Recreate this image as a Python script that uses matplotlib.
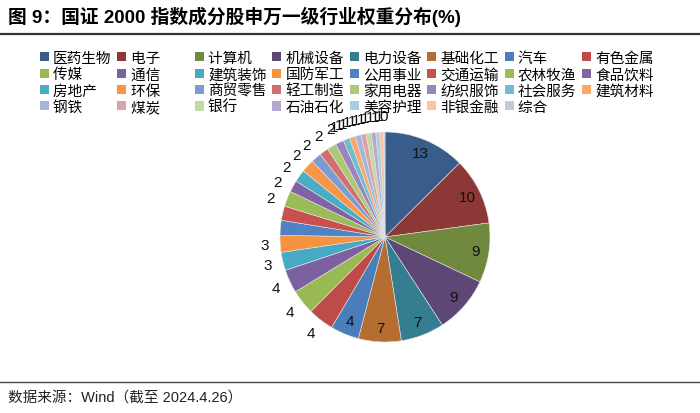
import matplotlib
matplotlib.use("Agg")
import matplotlib.pyplot as plt
from matplotlib.patches import Patch
import numpy as np

plt.rcParams['font.family'] = ['Liberation Sans', 'Noto Sans CJK SC', 'DejaVu Sans']

# 申万一级行业及权重(%)
industries = ['医药生物', '电子', '计算机', '机械设备', '电力设备', '基础化工', '汽车', '有色金属',
              '传媒', '通信', '建筑装饰', '国防军工', '公用事业', '交通运输', '农林牧渔', '食品饮料',
              '房地产', '环保', '商贸零售', '轻工制造', '家用电器', '纺织服饰', '社会服务', '建筑材料',
              '钢铁', '煤炭', '银行', '石油石化', '美容护理', '非银金融', '综合']
weights = [12.6, 10.3, 9.2, 8.8, 6.7, 6.6, 4.4, 4.0,
           3.8, 3.6, 2.8, 2.6, 2.3, 2.2, 2.4, 1.8,
           1.9, 2.0, 1.6, 1.4, 1.4, 1.3, 1.0, 0.9,
           0.9, 0.8, 0.8, 0.7, 0.6, 0.6, 0.2]
colors = ['#385D8A', '#8C3836', '#71893F', '#5C4776', '#357D91', '#B66D31', '#4A7EBB', '#BE4B48',
          '#98B954', '#7D60A0', '#46AAC5', '#F69240', '#4F81C5', '#C9504E', '#9BBB59', '#8064A2',
          '#4BACC6', '#F79646', '#7B9BD1', '#D0706E', '#ADC878', '#9A85B9', '#6EBDD3', '#F9A86A',
          '#A3B6DA', '#DDA3A2', '#C4D7A6', '#B5A8CC', '#A5CFDE', '#F9C3A1', '#C0C9E0']

fig = plt.figure(figsize=(7, 4.14), dpi=100)

# 标题与分隔线
fig.text(8 / 700, 1 - 17 / 414, '图 9：国证 2000 指数成分股申万一级行业权重分布(%)',
         fontsize=13.5, fontweight='bold', va='center', ha='left')
fig.add_artist(plt.Line2D([0, 1], [1 - 35 / 414] * 2, color='#333333', lw=1.6))
fig.add_artist(plt.Line2D([0, 1], [1 - 383 / 414] * 2, color='#444444', lw=1.0))
fig.text(8 / 700, 1 - 398 / 414, '数据来源：Wind（截至 2024.4.26）',
         fontsize=10.5, va='center', ha='left', color='#222222')

# 饼图
ax = fig.add_axes([280 / 700, 1 - 343 / 414, 210 / 700, 210 / 414])
wedges, _ = ax.pie(weights, colors=colors, startangle=90, counterclock=False,
                   wedgeprops=dict(edgecolor='#e6e6e6', linewidth=0.4))
ax.set_xlim(-1, 1)
ax.set_ylim(-1, 1)
ax.set_aspect('equal')
ax.axis('off')

# 数据标签: 大块放在内部, 小块放在外部, 顶部拥挤的向上推
total = sum(weights)
cum = np.cumsum([0] + weights[:-1])
mids = [360 * (c + w / 2) / total for c, w in zip(cum, weights)]
angles = list(mids)
nxt = 359.5
for i in range(len(weights) - 1, -1, -1):
    if weights[i] < 2.5:
        angles[i] = min(mids[i] + 14, nxt)
        nxt = angles[i] - 2.2
for i, w in enumerate(weights):
    r = 0.87 if w > 4.2 else 1.15
    th = np.radians(angles[i])
    ax.text(r * np.sin(th), r * np.cos(th), f'{w:.0f}', ha='center', va='center',
            fontsize=11, color='#111111', clip_on=False)

# 图例 (按行排列)
handles = [Patch(facecolor=c, edgecolor='none') for c in colors]
labels = [s + '\u3000' * (4 - len(s)) for s in industries]
ncol = 8
order = [r * ncol + c for c in range(ncol) for r in range(4) if r * ncol + c < len(industries)]
fig.legend([handles[i] for i in order], [labels[i] for i in order],
           loc='upper left', bbox_to_anchor=(40 / 700, 1 - 52 / 414), ncol=ncol,
           frameon=False, handlelength=0.6, handleheight=0.6,
           handletextpad=0.3, columnspacing=0.4, labelspacing=0.16, borderpad=0,
           borderaxespad=0, prop={'family': ['Noto Sans CJK SC'], 'size': 10.5})

fig.savefig('out.png', dpi=100)
